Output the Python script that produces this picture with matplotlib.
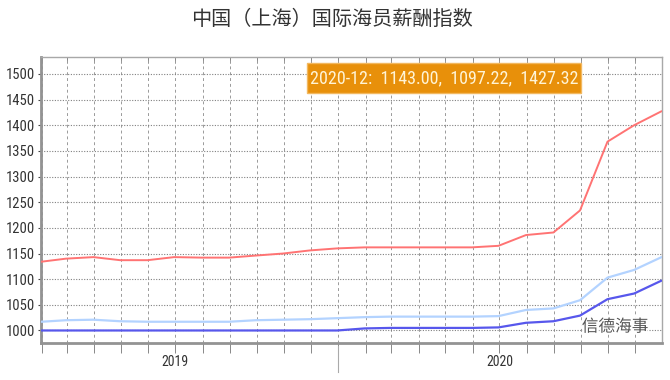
import matplotlib
matplotlib.use("Agg")
import matplotlib.pyplot as plt
import matplotlib.dates as mdates
import matplotlib.patheffects as pe
from matplotlib import font_manager
from matplotlib.font_manager import FontProperties
from matplotlib.patches import Rectangle
import pandas as pd

# ---------------- data ----------------
months = pd.date_range("2019-01-31", "2020-12-31", freq="ME")
series_red = [1134, 1140, 1143, 1137, 1137, 1143, 1142, 1142, 1146, 1150, 1156, 1160,
              1162, 1162, 1162, 1162, 1162, 1165, 1186, 1191, 1234, 1368, 1400, 1427.32]
series_light = [1017, 1020, 1021, 1018, 1017, 1017, 1017, 1017, 1020, 1021, 1022, 1024,
                1026, 1027, 1027, 1027, 1027, 1028, 1040, 1043, 1059, 1103, 1118, 1143.00]
series_dark = [1000, 1000, 1000, 1000, 1000, 1000, 1000, 1000, 1000, 1000, 1000, 1000,
               1004, 1005, 1005, 1005, 1005, 1006, 1015, 1018, 1029, 1061, 1072, 1097.22]
y_ticks = [1000, 1050, 1100, 1150, 1200, 1250, 1300, 1350, 1400, 1450, 1500]
year_labels = ["2019", "2020"]
year_centers = ["2019-07-01", "2020-07-01"]
year_boundary = "2020-01-01"
title = "中国（上海）国际海员薪酬指数"
tooltip = "2020-12:  1143.00,  1097.22,  1427.32"
watermark = "信德海事"

# ---------------- fonts ----------------
narrow_file = None
entries = font_manager.fontManager.ttflist
for want in ["Liberation Sans Narrow", "Roboto Condensed", "Open Sans Condensed",
             "DejaVu Sans Condensed"]:
    for f in entries:
        if f.name == want and f.style == "normal" and f.weight in (400, "normal"):
            narrow_file = f.fname
            break
    if narrow_file:
        break
if narrow_file is None:
    for f in entries:
        if (("Condensed" in f.fname or "Narrow" in f.fname)
                and f.style == "normal" and "Bold" not in f.fname
                and "Oblique" not in f.fname and "Italic" not in f.fname):
            narrow_file = f.fname
            break

def nfont(size):
    if narrow_file:
        return FontProperties(fname=narrow_file, size=size)
    return FontProperties(family="DejaVu Sans", size=size * 0.8)

cjk = ["Noto Sans CJK SC", "DejaVu Sans"]

W, H = 670, 380
fig = plt.figure(figsize=(W / 100, H / 100), dpi=100)
fig.patch.set_facecolor("white")

L, R, T, B = 41, 662, 57, 343
ax = fig.add_axes([L / W, 1 - B / H, (R - L) / W, (B - T) / H])

ax.plot(months, series_light, color="#B3D3FF", lw=1.6, zorder=3, solid_capstyle="round")
ax.plot(months, series_dark, color="#5757EC", lw=1.6, zorder=4, solid_capstyle="round")
ax.plot(months, series_red, color="#FF7373", lw=1.4, zorder=5, solid_capstyle="round")

ax.set_ylim(975.6, 1533)
ax.set_xlim(pd.Timestamp("2019-01-31") - pd.Timedelta(hours=6),
             pd.Timestamp("2020-12-31") + pd.Timedelta(hours=12))

ax.set_yticks(y_ticks)
ax.set_yticklabels([str(v) for v in y_ticks])
for lab in ax.get_yticklabels():
    lab.set_fontproperties(nfont(10.5))
    lab.set_color("#333333")
ax.xaxis.set_major_locator(mdates.MonthLocator())
ax.xaxis.set_major_formatter(plt.NullFormatter())

ax.tick_params(axis="y", direction="out", length=2.5, width=0.8, color="#444444", pad=2)
ax.tick_params(axis="x", direction="out", length=7, width=0.7, color="#888888", pad=2)

ax.grid(axis="y", color="#808080", lw=0.8, linestyle=(0, (1, 1.4)))
ax.grid(axis="x", color="#9a9a9a", lw=0.7, linestyle=(0, (3, 3)))

for side in ["left", "bottom"]:
    ax.spines[side].set_color("#939393")
    ax.spines[side].set_linewidth(2)
for side in ["top", "right"]:
    ax.spines[side].set_color("#a8a8a8")
    ax.spines[side].set_linewidth(1)

top = ax.secondary_xaxis("top")
top.xaxis.set_major_locator(mdates.MonthLocator())
top.xaxis.set_major_formatter(plt.NullFormatter())
top.tick_params(direction="in", length=4, width=0.7, color="#888888")
top.spines["top"].set_visible(False)

tr = ax.get_xaxis_transform()
yb = mdates.date2num(pd.Timestamp(year_boundary))
ax.plot([yb, yb], [-0.01, -0.10], transform=tr, color="#aaaaaa", lw=0.8, clip_on=False)
for lab, c in zip(year_labels, year_centers):
    ax.text(mdates.date2num(pd.Timestamp(c)), -0.068, lab, transform=tr,
            ha="center", va="center", fontproperties=nfont(10), color="#333333")

fig.text(332 / W, 1 - 19 / H, title, ha="center", va="center", fontsize=14.5,
         color="#333333", family=cjk)

bx0, bx1, by0, by1 = 307, 581, 63, 93
fig.patches.append(Rectangle((bx0 / W, 1 - by1 / H), (bx1 - bx0) / W, (by1 - by0) / H,
                             transform=fig.transFigure, facecolor="#E8900A",
                             edgecolor="#F2B860", lw=1.0, zorder=10))
fig.text((bx0 + bx1) / 2 / W, 1 - (by0 + by1) / 2 / H, tooltip, ha="center", va="center",
         fontproperties=nfont(13), color="#FFF4D6", zorder=11)

fig.text(615 / W, 1 - 327 / H, watermark, ha="center", va="center", fontsize=12,
         color="#555555", family=cjk, zorder=12,
         path_effects=[pe.withStroke(linewidth=2.5, foreground="white")])

fig.savefig("out.png", dpi=100)
